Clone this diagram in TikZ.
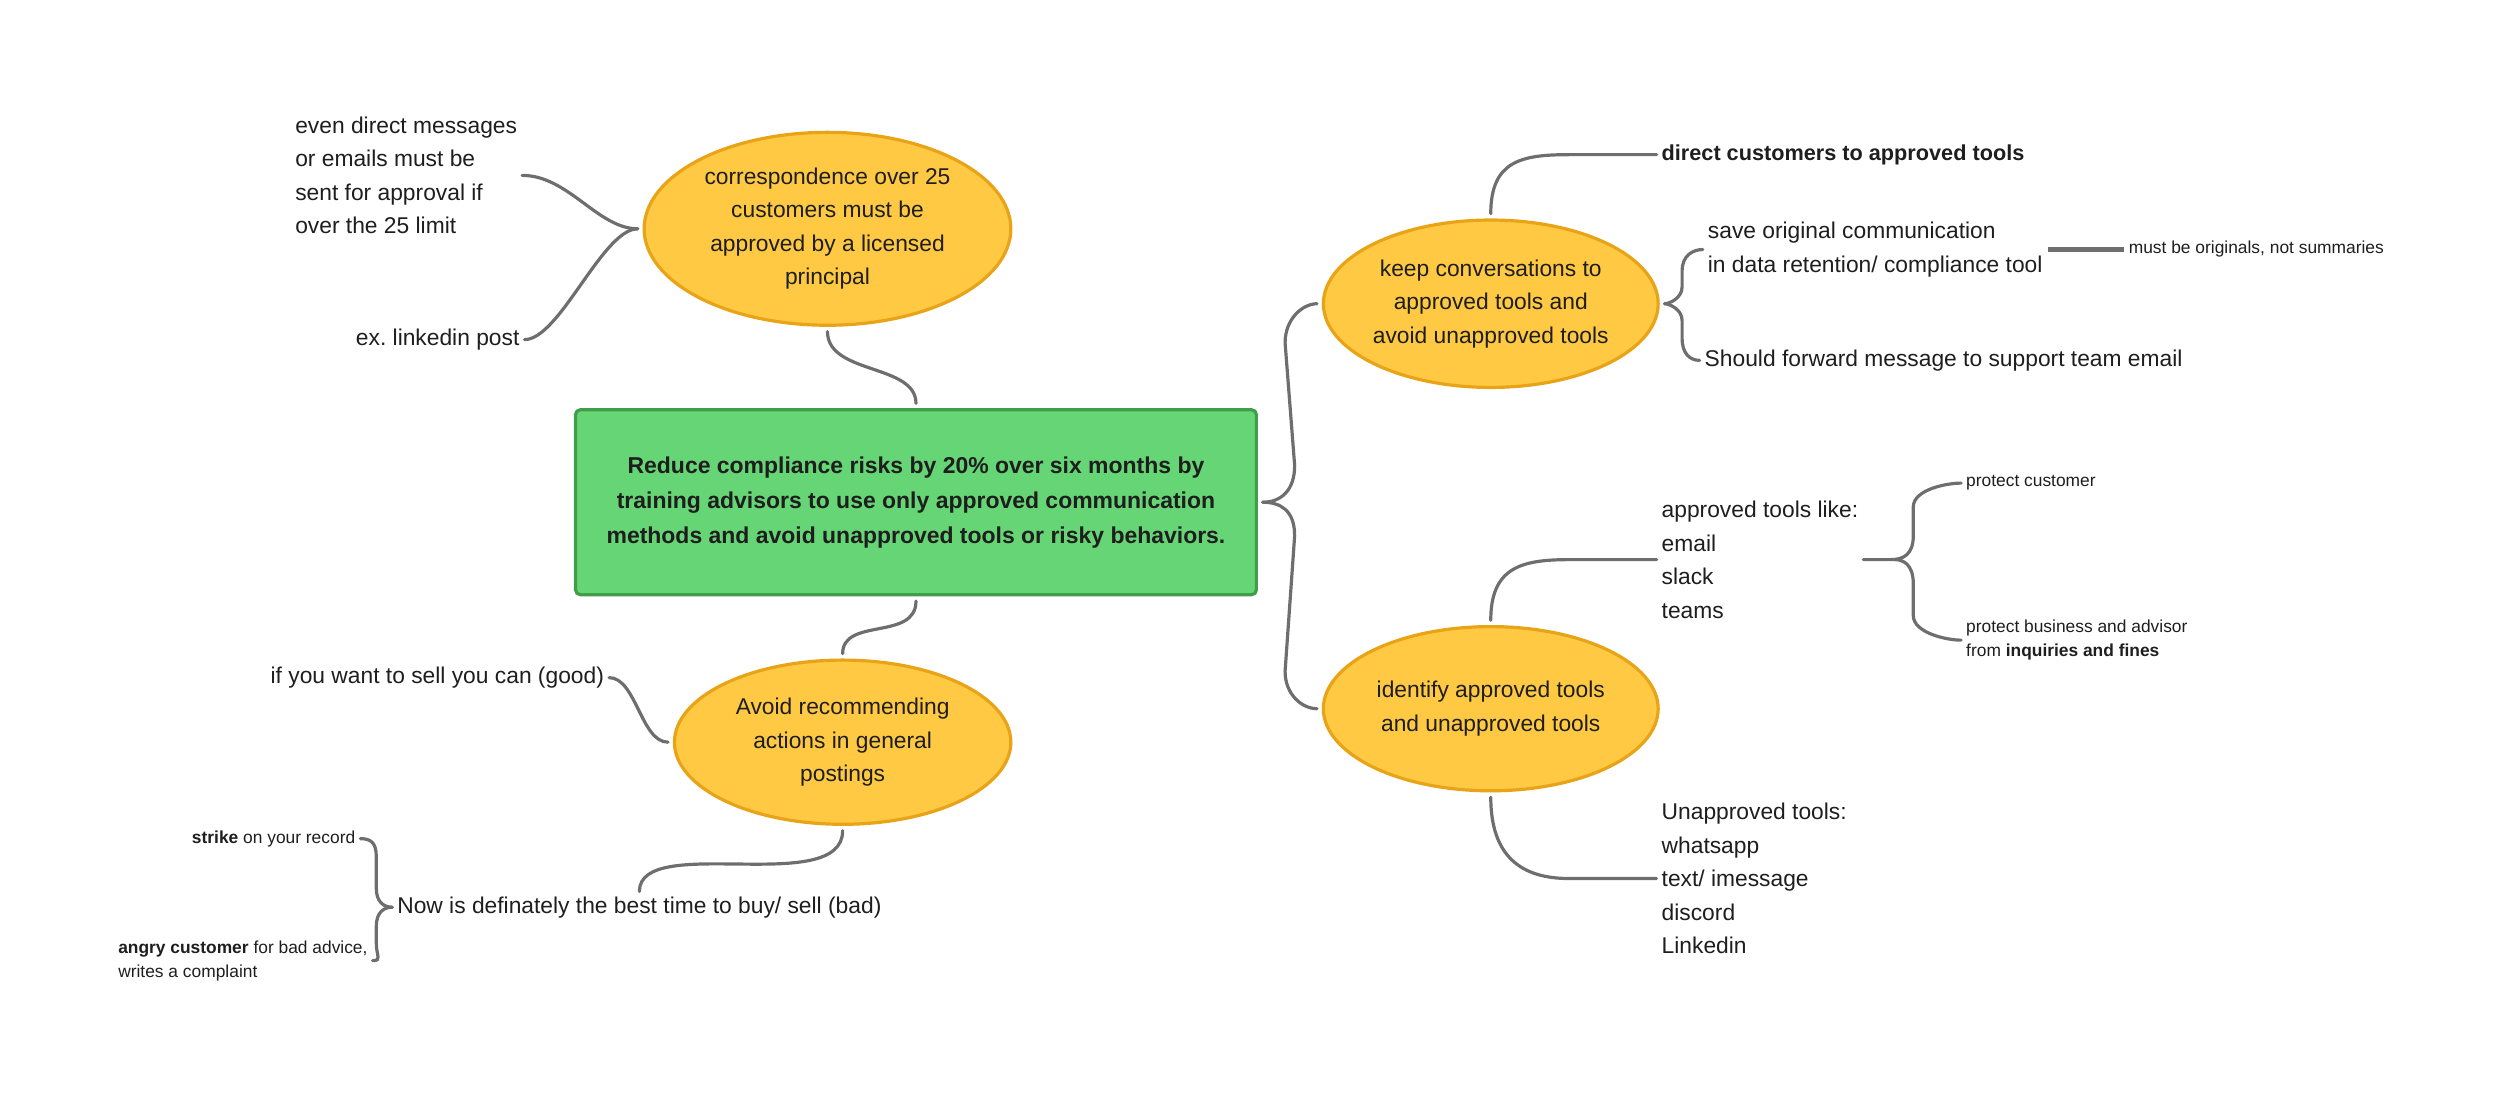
\documentclass[tikz,border=0pt]{standalone}
\usepackage{fontspec}
\setmainfont{Liberation Sans}
\frenchspacing
\usetikzlibrary{positioning, calc, shapes.geometric}
\definecolor{ellfill}{RGB}{255,201,67}
\definecolor{elldraw}{RGB}{232,163,23}
\definecolor{goalfill}{RGB}{102,213,117}
\definecolor{goaldraw}{RGB}{62,158,74}
\definecolor{linkgrey}{RGB}{110,110,110}
\definecolor{inkdark}{RGB}{30,30,30}

\begin{document}
\begin{tikzpicture}[
          x = 1pt, y = -1pt,
          every node/.style = {text = inkdark, inner sep = 0, font = \fontsize{14.3}{21}\selectfont},
          link/.style = {draw = linkgrey, line width = 2pt, line cap = round, shorten <= 3pt, shorten >= 3pt}
        ]
          \tikzstyle {goal} = [draw = goaldraw, fill = goalfill, line width = 2pt, rounded corners = 3pt,
                               minimum width = 427, minimum height = 116, align = center,
                               font = \bfseries\fontsize{14.4}{22}\selectfont]
          \tikzstyle {topic} = [ellipse, draw = elldraw, fill = ellfill, line width = 2pt]
          \tikzstyle {leaf} = [align = left, anchor = west]
          \tikzstyle {small} = [font = \fontsize{10.9}{15}\selectfont]
          \useasboundingbox (0,0) rectangle (1568,690);
          % place nodes
          \path node (goal) [goal] at (574.5,315) {Reduce compliance risks by 20\% over six months by\\training advisors to use only approved communication\\methods and avoid unapproved tools or risky behaviors.};
          \path node (corr) [topic, minimum width = 230, minimum height = 121,
                label = {[align = center]center:correspondence over 25\\customers must be\\approved by a licensed\\principal}] at (519,143.5) {};
          \path node (avoid) [topic, minimum width = 211, minimum height = 103,
                label = {[align = center]center:Avoid recommending\\actions in general\\postings}] at (528.5,465.5) {};
          \path node (keep) [topic, minimum width = 210, minimum height = 105,
                label = {[align = center]center:keep conversations to\\approved tools and\\avoid unapproved tools}] at (935,190.5) {};
          \path node (ident) [topic, minimum width = 210, minimum height = 103,
                label = {[align = center]center:identify approved tools\\and unapproved tools}] at (935,444.5) {};
          \path node (even) [leaf] at (185,110) {even direct messages\\or emails must be\\sent for approval if\\over the 25 limit};
          \path node (post) [leaf, anchor = east] at (326,213) {ex. linkedin post};
          \path node (good) [leaf, anchor = east] at (379,425) {if you want to sell you can (good)};
          \path node (bad) [leaf] at (249,569) {Now is definately the best time to buy/ sell (bad)};
          \path node (strike) [leaf, small, anchor = east] at (223,526) {\textbf{strike} on your record};
          \path node (angry) [leaf, small] at (74,602.5) {\textbf{angry customer} for bad advice,\\writes a complaint};
          \path node (direct) [leaf, font = \bfseries\fontsize{13.6}{21}\selectfont] at (1042,97) {direct customers to approved tools};
          \path node (save) [leaf] at (1071,156.5) {save original communication\\in data retention/ compliance tool};
          \path node (orig) [leaf, small] at (1335,156) {must be originals, not summaries};
          \path node (fwd) [leaf] at (1069,226) {Should forward message to support team email};
          \path node (appr) [leaf] at (1042,351) {approved tools like:\\email\\slack\\teams};
          \path node (protc) [leaf, small] at (1233,303) {protect customer};
          \path node (protb) [leaf, small] at (1233,401.5) {protect business and advisor\\from \textbf{inquiries and fines}};
          \path node (unappr) [leaf] at (1042,551) {Unapproved tools:\\whatsapp\\text/ imessage\\discord\\Linkedin};
          % place edges
          \draw [link] (corr.south) .. controls +(0,30) and +(0,-28) .. (goal.north);
          \draw [link] (goal.south) .. controls +(0,28) and +(0,-26) .. (avoid.north);
          \draw [link] (goal.east) .. controls +(14,0) and +(0,16) .. (812,292) -- (806,215) .. controls +(0,-15) and +(-12,0) .. (keep.west);
          \draw [link] (goal.east) .. controls +(14,0) and +(0,-16) .. (812,336) -- (806,421) .. controls +(0,15) and +(-12,0) .. (ident.west);
          \draw [link] (corr.west) .. controls +(-28,0) and +(32,0) .. (even.east);
          \draw [link] (corr.west) .. controls +(-25,0) and +(25,0) .. (post.east);
          \draw [link] (avoid.west) .. controls +(-20,0) and +(20,0) .. (good.east);
          \draw [link] (avoid.south) .. controls +(0,45) and +(0,-40) .. (bad.north);
          \draw [link] (strike.east) .. controls +(9,0) and +(0,-9) .. (236,537) -- (236,557) .. controls +(0,9) and +(-8,0) .. (bad.west);
          \draw [link] (angry.east) .. controls +(9,0) and +(0,9) .. (236,591) -- (236,581) .. controls +(0,-9) and +(-8,0) .. (bad.west);
          \draw [link] (keep.north) .. controls +(0,-36) and +(-30,0) .. ($(direct.west)+(-58,0)$) -- (direct.west);
          \draw [link] (save.west) .. controls +(-9,0) and +(0,-10) .. (1055,170) -- (1055,180) .. controls +(0,7) and +(6,0) .. (keep.east);
          \draw [link] (fwd.west) .. controls +(-9,0) and +(0,10) .. (1055,212) -- (1055,201) .. controls +(0,-7) and +(6,0) .. (keep.east);
          \draw [link, line width = 3pt, line cap = butt] (save.east) -- (save.east -| orig.west);
          \draw [link] (ident.north) .. controls +(0,-36) and +(-30,0) .. ($(appr.west)+(-58,0)$) -- (appr.west);
          \draw [link] (ident.south) .. controls +(0,40) and +(-30,0) .. ($(unappr.west)+(-58,0)$) -- (unappr.west);
          \draw [link] (appr.east) -- ($(appr.east)+(20,0)$) .. controls +(8,0) and +(0,12) .. (1200,336) -- (1200,318) .. controls +(0,-11) and +(-12,0) .. (protc.west);
          \draw [link] ($(appr.east)+(20,0)$) .. controls +(8,0) and +(0,-12) .. (1200,366) -- (1200,386) .. controls +(0,11) and +(-12,0) .. (protb.west);
        \end{tikzpicture}
\end{document}
